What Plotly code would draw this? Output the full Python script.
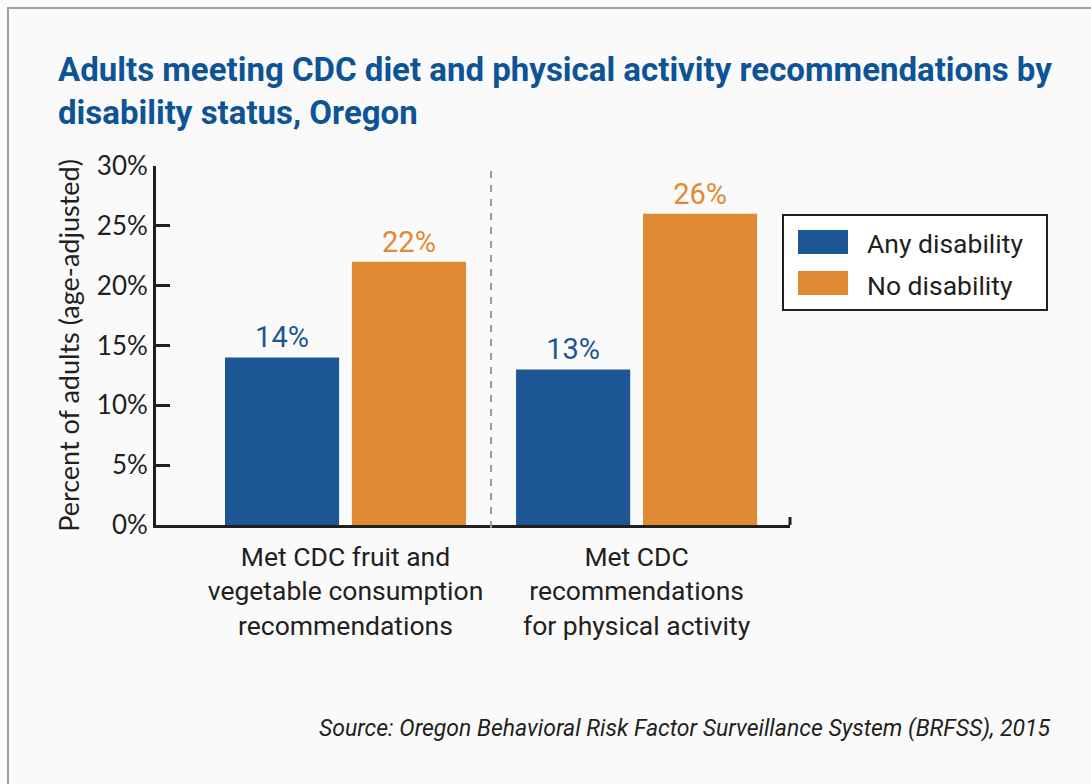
import plotly.graph_objects as go

categories = ["Met CDC fruit and<br>vegetable consumption<br>recommendations",
              "Met CDC<br>recommendations<br>for physical activity"]
series_names = ["Any disability", "No disability"]
any_disability = [14, 13]
no_disability = [22, 26]
y_tick_vals = [0, 5, 10, 15, 20, 25, 30]
y_tick_text = ["0%", "5%", "10%", "15%", "20%", "25%", "30%"]

BLUE = "#1c5694"
ORANGE = "#e08b33"
DARK = "#231f20"
TITLE_BLUE = "#0d5496"

W, H = 1091, 784
L, R, T, B = 156, 301, 166, 259
PW, PH = W - L - R, H - T - B


def xp(px):
    return (px - L) / PW


def yp(py):
    return (H - B - py) / PH


xpos = list(range(len(categories)))

fig = go.Figure()
for name, vals, col, off in [(series_names[0], any_disability, BLUE, -0.414),
                             (series_names[1], no_disability, ORANGE, 0.022)]:
    fig.add_trace(go.Bar(
        x=xpos, y=vals, name=name, marker=dict(color=col, line=dict(width=0)),
        width=0.392, offset=off,
        text=[f"{v}%" for v in vals], textposition="outside",
        textfont=dict(family="Roboto", size=29, color=col),
        cliponaxis=False, showlegend=False,
    ))

shapes = [
    # outer frame
    dict(type="rect", xref="paper", yref="paper", x0=xp(8), x1=xp(1110), y0=yp(800), y1=yp(8),
         line=dict(color="#a0a0a0", width=2), fillcolor="rgba(0,0,0,0)", layer="below"),
    # separator
    dict(type="line", xref="x", yref="paper", x0=0.5, x1=0.5, y0=yp(528), y1=1,
         line=dict(color="#9a9a9a", width=2, dash="7px,7px")),
    # x-axis end tick
    dict(type="line", xref="paper", yref="paper", x0=1, x1=1, y0=0, y1=yp(517),
         line=dict(color=DARK, width=3)),
    # legend box
    dict(type="rect", xref="paper", yref="paper", x0=xp(783), x1=xp(1047), y0=yp(310), y1=yp(215),
         line=dict(color=DARK, width=2), fillcolor="white"),
    dict(type="rect", xref="paper", yref="paper", x0=xp(798), x1=xp(848), y0=yp(254), y1=yp(230),
         line=dict(width=0), fillcolor=BLUE),
    dict(type="rect", xref="paper", yref="paper", x0=xp(798), x1=xp(848), y0=yp(295), y1=yp(271),
         line=dict(width=0), fillcolor=ORANGE),
]

annotations = [
    dict(xref="paper", yref="paper", x=xp(865), y=yp(243), text=series_names[0], showarrow=False,
         xanchor="left", yanchor="middle", font=dict(family="Roboto", size=26.5, color=DARK)),
    dict(xref="paper", yref="paper", x=xp(865), y=yp(285), text=series_names[1], showarrow=False,
         xanchor="left", yanchor="middle", font=dict(family="Roboto", size=26.5, color=DARK)),
    dict(xref="paper", yref="paper", x=xp(1053), y=yp(728),
         text="<i>Source: Oregon Behavioral Risk Factor Surveillance System (BRFSS), 2015</i>",
         showarrow=False, xanchor="right", yanchor="middle",
         font=dict(family="Roboto", size=23, color=DARK)),
]

fig.update_layout(
    width=W, height=H,
    margin=dict(l=L, r=R, t=T, b=B, autoexpand=False),
    paper_bgcolor="#fafafa", plot_bgcolor="#fafafa",
    barmode="overlay",
    title=dict(text="Adults meeting CDC diet and physical activity recommendations by<br>disability status, Oregon",
               x=58 / W, xanchor="left", xref="container", y=1 - 81 / H, yanchor="top", yref="container",
               font=dict(family="Roboto", size=33, color=TITLE_BLUE, weight="bold")),
    xaxis=dict(range=[-0.651, 1.527], tickvals=xpos, ticktext=categories, showgrid=False, zeroline=False,
               showline=True, linecolor=DARK, linewidth=3, ticks="", ticklabelstandoff=6,
               tickfont=dict(family="Roboto", size=26.5, color=DARK), fixedrange=True),
    yaxis=dict(range=[0, 30], tickvals=y_tick_vals, ticktext=y_tick_text, showgrid=False, zeroline=False,
               showline=True, linecolor=DARK, linewidth=3, ticks="inside", ticklen=14, tickwidth=3,
               tickcolor=DARK, tickfont=dict(family="Lato", size=26, color=DARK), fixedrange=True,
               title=dict(text="Percent of adults (age-adjusted)", standoff=10,
                          font=dict(family="Lato", size=27, color=DARK))),
    shapes=shapes, annotations=annotations,
)

fig.write_html("out.html", config={"displayModeBar": False},
               post_script="document.body.style.margin='0px';document.body.style.overflow='hidden';")
